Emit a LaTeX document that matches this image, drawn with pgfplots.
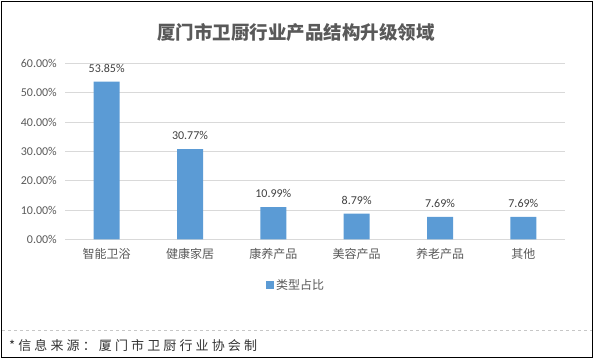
\documentclass[border=0pt]{standalone}
\usepackage{pgfplots}
\pgfplotsset{compat=1.18}
\usepackage{fontspec}
\setmainfont{Carlito}
\newfontfamily\cjk{Noto Sans CJK SC}
\newfontfamily\cjkfoot{Noto Sans CJK SC}[LetterSpace=24]
\definecolor{barblue}{HTML}{5B9BD5}
\definecolor{gridgray}{HTML}{D9D9D9}
\definecolor{txtgray}{HTML}{595959}
\definecolor{lblgray}{HTML}{404040}
\begin{document}
\begin{tikzpicture}[x=1pt,y=1pt]
\useasboundingbox (0,0) rectangle (595,-359);
\draw[black,line width=1.2pt] (1.5,-1.5) rectangle (592.5,-357.5);
\node[font=\cjk\bfseries\fontsize{18.5}{20}\selectfont,text=txtgray] at (296,-32) {厦门市卫厨行业产品结构升级领域};
\begin{axis}[
  at={(65pt,-239.3pt)}, anchor=south west,
  scale only axis, width=500pt, height=175.8pt,
  xmin=-0.5, xmax=5.5, ymin=0, ymax=60,
  ytick={0,10,...,60},
  xtick=data,
  xticklabels={智能卫浴,健康家居,康养产品,美容产品,养老产品,其他},
  axis lines=left,
  axis line style={draw=none},
  major tick length=0pt,
  ymajorgrids, grid style={gridgray, line width=0.8pt},
  yticklabel={\pgfmathprintnumber[fixed,fixed zerofill,precision=2]{\tick}\%},
  /pgf/number format/assume math mode=true,
  yticklabel style={font=\fontsize{12}{14}\selectfont, text=txtgray, anchor=east, inner sep=0pt, xshift=-8pt},
  xticklabel style={font=\cjk\fontsize{12}{14}\selectfont, text=txtgray, anchor=north, inner sep=0pt, yshift=-9pt},
  ybar, bar width=26pt,
  nodes near coords={\pgfmathprintnumber[fixed,fixed zerofill,precision=2,assume math mode=true]{\pgfplotspointmeta}\%},
  every node near coord/.append style={font=\fontsize{12}{14}\selectfont, text=lblgray, inner sep=0pt, yshift=9pt},
  legend style={at={(0.462,-0.26)}, anchor=center, draw=none, fill=none, font=\cjk\fontsize{12}{14}\selectfont, text=txtgray, inner sep=0pt},
  legend image code/.code={\fill[barblue] (0pt,-4pt) rectangle (8pt,4pt);},
  clip=false,
]
\addplot[fill=barblue, draw=none] coordinates {(0,53.85) (1,30.77) (2,10.99) (3,8.79) (4,7.69) (5,7.69)};
\addlegendentry{类型占比}
\end{axis}
\draw[dashed, color=gridgray!80!gray, line width=0.6pt] (2,-330) -- (592,-330);
\node[anchor=west, font=\cjkfoot\fontsize{13}{15}\selectfont, text=black!80, inner sep=0pt] at (9,-346) {*信息来源：厦门市卫厨行业协会制};
\end{tikzpicture}
\end{document}
